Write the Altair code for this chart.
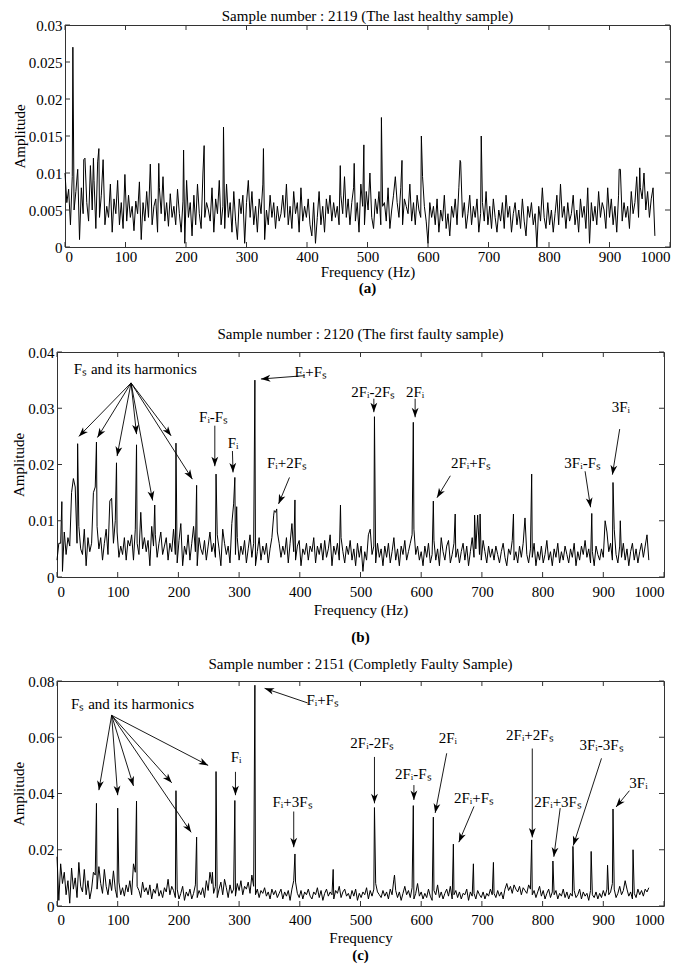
import math
import altair as alt
import pandas as pd

FONT = "Liberation Serif"
STEP = 3  # Hz between noise-floor samples (0 .. 975 Hz)

# ---------------- panel (a) : sample 2119 ----------------
noise_a = [
    100, 60, 78, 30, 95, 50, 75, 105, 10, 80, 45, 120, 60, 35, 110, 50, 90, 25, 115, 40,
    70, 118, 30, 55, 40, 85, 20, 65, 45, 90, 30, 60, 25, 98, 35, 70, 40, 55, 22, 62,
    45, 88, 10, 60, 35, 75, 40, 112, 30, 55, 65, 20, 80, 45, 95, 35, 60, 28, 72, 40,
    55, 30, 78, 45, 20, 62, 5, 90, 40, 60, 15, 70, 30, 85, 45, 25, 100, 40, 60, 50,
    35, 80, 20, 65, 45, 90, 30, 55, 25, 85, 40, 60, 20, 75, 35, 10, 65, 45, 70, 5,
    60, 90, 40, 75, 30, 55, 20, 65, 45, 85, 10, 50, 30, 70, 40, 60, 25, 55, 35, 45,
    70, 40, 85, 30, 55, 25, 75, 45, 60, 20, 80, 35, 55, 40, 65, 30, 15, 60, 5, 40,
    75, 30, 55, 20, 65, 45, 70, 35, 60, 40, 55, 30, 70, 45, 95, 40, 65, 30, 60, 80,
    35, 60, 20, 85, 55, 30, 75, 50, 100, 40, 25, 65, 45, 75, 30, 55, 60, 35, 80, 25,
    50, 70, 95, 60, 40, 80, 30, 65, 55, 45, 85, 35, 60, 30, 70, 50, 40, 95, 55, 35,
    5, 60, 40, 55, 30, 65, 20, 50, 35, 70, 25, 45, 15, 55, 40, 65, 30, 80, 115, 40,
    60, 25, 45, 70, 30, 55, 40, 65, 20, 45, 60, 35, 75, 30, 55, 25, 65, 40, 20, 50,
    35, 60, 25, 70, 40, 55, 20, 45, 60, 30, 50, 25, 65, 35, 15, 55, 40, 60, 30, 45,
    0, 55, 35, 80, 40, 25, 60, 30, 50, 20, 45, 70, 30, 85, 40, 55, 25, 60, 35, 45,
    70, 30, 50, 20, 65, 40, 55, 25, 80, 5, 60, 35, 55, 30, 75, 40, 60, 50, 25, 80,
    40, 65, 30, 55, 20, 70, 105, 35, 60, 40, 55, 25, 75, 45, 60, 95, 40, 80, 65, 100,
    50, 75, 40, 65, 80, 15,
]
peak_a_f = [13, 31, 47, 56, 155, 196, 230, 262, 328, 455, 478, 494, 523, 557, 589, 653, 688, 916, 950]
peak_a_v = [270, 118, 120, 133, 113, 131, 137, 162, 133, 110, 113, 138, 175, 117, 150, 117, 150, 105, 107]

# ---------------- panel (b) : sample 2120 ----------------
noise_b = [
    30, 60, 60, 10, 80, 40, 70, 55, 150, 175, 160, 60, 90, 50, 40, 85, 20, 70, 45, 60,
    150, 160, 90, 50, 70, 30, 60, 85, 40, 135, 140, 60, 100, 80, 35, 55, 40, 70, 30, 65,
    55, 75, 30, 85, 60, 40, 115, 50, 70, 45, 65, 20, 90, 55, 75, 35, 60, 80, 40, 55,
    70, 30, 60, 45, 85, 40, 25, 65, 95, 20, 55, 40, 75, 30, 60, 90, 45, 20, 70, 50,
    40, 65, 30, 55, 80, 45, 60, 35, 75, 50, 20, 85, 60, 40, 55, 25, 95, 130, 40, 70,
    30, 55, 40, 65, 25, 50, 75, 35, 60, 20, 45, 70, 30, 55, 40, 60, 25, 50, 70, 110,
    115, 80, 60, 35, 55, 40, 70, 25, 60, 95, 45, 30, 55, 65, 20, 50, 40, 60, 30, 55,
    45, 70, 25, 55, 40, 60, 30, 65, 35, 50, 75, 20, 55, 40, 60, 30, 70, 45, 25, 55,
    40, 65, 30, 50, 20, 60, 35, 55, 10, 45, 30, 75, 85, 40, 55, 25, 60, 35, 50, 20,
    55, 35, 60, 25, 45, 70, 30, 50, 20, 55, 40, 65, 30, 45, 60, 75, 85, 40, 55, 30,
    45, 20, 55, 35, 60, 25, 40, 65, 30, 50, 20, 70, 45, 30, 55, 65, 25, 40, 60, 35,
    50, 25, 45, 60, 30, 55, 20, 45, 70, 35, 50, 110, 40, 30, 65, 45, 25, 55, 35, 50,
    30, 55, 40, 25, 45, 60, 35, 20, 50, 40, 65, 30, 45, 25, 55, 35, 60, 105, 40, 25,
    50, 35, 60, 20, 45, 30, 55, 25, 40, 65, 30, 45, 20, 50, 35, 60, 25, 45, 30, 55,
    40, 25, 50, 35, 60, 20, 45, 30, 55, 40, 65, 35, 50, 25, 45, 20, 55, 40, 30, 50,
    35, 100, 80, 45, 60, 30, 85, 40, 25, 55, 35, 60, 30, 50, 20, 45, 60, 30, 50, 25,
    45, 60, 35, 55, 75, 30,
]
peak_b_f = [8, 34, 65, 98, 131, 161, 196, 230, 262, 293, 296, 326, 358, 362, 392, 467,
            523, 587, 620, 656, 688, 697, 752, 782, 881, 916, 928]
peak_b_v = [134, 237, 240, 203, 235, 128, 238, 163, 183, 177, 125, 350, 118, 121, 137, 128,
            285, 275, 135, 112, 110, 112, 112, 183, 113, 168, 100]

arr_b_x1 = [122, 122, 122, 122, 122, 122, 122, 260, 289, 408, 383, 522, 590, 648, 870, 927]
arr_b_y1 = [0.0345, 0.0345, 0.0345, 0.0345, 0.0345, 0.0345, 0.0345,
            0.0269, 0.0224, 0.0358, 0.0177, 0.0317, 0.0317, 0.0180, 0.0188, 0.0263]
arr_b_x2 = [36, 66.6, 99, 131, 157.5, 188, 223, 260, 290, 336, 365, 522, 590, 626, 879, 915]
arr_b_y2 = [0.0250, 0.0248, 0.0215, 0.0254, 0.0136, 0.0251, 0.0174,
            0.0197, 0.0186, 0.0352, 0.0130, 0.0293, 0.0284, 0.0141, 0.0124, 0.0182]

lab_b_t = ["Fₛ and its harmonics", "Fᵢ-Fₛ", "Fᵢ", "Fᵢ+Fₛ", "Fᵢ+2Fₛ",
           "2Fᵢ-2Fₛ", "2Fᵢ", "2Fᵢ+Fₛ", "3Fᵢ-Fₛ", "3Fᵢ"]
lab_b_x = [129, 258, 290, 418, 379, 521, 590, 682, 866, 929]
lab_b_y = [0.0370, 0.0284, 0.0239, 0.0364, 0.0203, 0.0329, 0.0329, 0.0203, 0.0203, 0.0302]

# ---------------- panel (c) : sample 2151 ----------------
noise_c = [
    175, 20, 150, 80, 120, 40, 90, 10, 135, 60, 100, 30, 155, 70, 50, 130, 40, 90, 25, 60,
    120, 110, 60, 140, 80, 45, 130, 70, 40, 95, 55, 125, 60, 30, 85, 40, 65, 35, 75, 50,
    90, 40, 150, 120, 70, 55, 30, 85, 50, 65, 40, 75, 25, 60, 45, 80, 35, 55, 30, 65,
    50, 95, 40, 70, 55, 30, 60, 25, 45, 70, 20, 50, 35, 60, 25, 45, 75, 30, 55, 40,
    65, 30, 90, 55, 120, 80, 45, 70, 30, 60, 85, 40, 95, 65, 30, 75, 45, 60, 35, 80,
    55, 90, 40, 70, 60, 85, 45, 110, 70, 40, 60, 30, 55, 45, 65, 35, 50, 25, 60, 40,
    55, 30, 45, 60, 25, 50, 35, 55, 20, 60, 90, 85, 45, 30, 55, 25, 50, 40, 60, 35,
    25, 50, 40, 65, 30, 55, 20, 45, 60, 35, 50, 40, 25, 55, 45, 70, 30, 50, 60, 35,
    45, 25, 55, 35, 60, 20, 45, 30, 50, 40, 65, 25, 55, 35, 60, 80, 50, 40, 30, 55,
    35, 50, 25, 60, 40, 95, 55, 30, 50, 20, 45, 70, 40, 55, 30, 65, 25, 45, 80, 35,
    50, 25, 45, 30, 60, 35, 20, 55, 40, 75, 30, 50, 25, 45, 60, 35, 70, 25, 40, 55,
    30, 50, 25, 45, 40, 60, 20, 50, 35, 45, 25, 55, 40, 30, 50, 25, 45, 35, 60, 40,
    45, 30, 55, 35, 50, 25, 60, 80, 55, 70, 45, 75, 60, 50, 70, 40, 65, 55, 45, 75,
    60, 40, 55, 30, 50, 70, 35, 55, 25, 45, 60, 30, 50, 40, 55, 25, 45, 35, 60, 30,
    50, 25, 45, 35, 55, 30, 40, 60, 25, 50, 35, 45, 20, 55, 40, 30, 50, 25, 45, 30,
    55, 35, 60, 40, 50, 80, 60, 30, 45, 70, 40, 55, 90, 60, 35, 50, 25, 45, 30, 60,
    40, 55, 35, 60, 50, 65,
]
peak_c_f = [65, 100, 131, 196, 230, 256, 262, 293, 326, 392, 455, 523, 556, 587, 620,
            653, 686, 719, 782, 817, 850, 880, 907, 916, 949]
peak_c_v = [365, 348, 373, 410, 245, 120, 478, 375, 785, 185, 130, 350, 110, 357, 316,
            220, 150, 155, 235, 160, 212, 194, 145, 345, 200]

arr_c_x1 = [90, 90, 90, 90, 90, 90, 294, 413, 390, 523, 588, 642, 687, 783, 829, 897, 943]
arr_c_y1 = [0.0678, 0.0678, 0.0678, 0.0678, 0.0678, 0.0678, 0.0477, 0.0722, 0.0336,
            0.0530, 0.0430, 0.0543, 0.0354, 0.0560, 0.0348, 0.0525, 0.0410]
arr_c_x2 = [69, 100, 126, 189, 249, 221, 294, 342, 390, 523, 588, 623, 662, 783, 818.5, 850.5, 921]
arr_c_y2 = [0.0412, 0.0394, 0.0427, 0.0438, 0.0500, 0.0262, 0.0394, 0.0774, 0.0209,
            0.0365, 0.0377, 0.0331, 0.0227, 0.0244, 0.0175, 0.0215, 0.0352]

lab_c_t = ["Fₛ and its harmonics", "Fᵢ", "Fᵢ+Fₛ", "Fᵢ+3Fₛ", "2Fᵢ-2Fₛ", "2Fᵢ-Fₛ",
           "2Fᵢ", "2Fᵢ+Fₛ", "2Fᵢ+2Fₛ", "2Fᵢ+3Fₛ", "3Fᵢ-3Fₛ", "3Fᵢ"]
lab_c_x = [124.5, 295, 437.7, 388, 519.6, 587, 644, 687, 779, 825.6, 897, 958]
lab_c_y = [0.0720, 0.0530, 0.0734, 0.0371, 0.0578, 0.0470, 0.0596, 0.0385, 0.0608,
           0.0371, 0.0572, 0.0436]

# ---------------- axes ----------------
x_ticks = [0, 100, 200, 300, 400, 500, 600, 700, 800, 900, 1000]
y_ticks_a = [0, 0.005, 0.01, 0.015, 0.02, 0.025, 0.03]
y_ticks_b = [0, 0.01, 0.02, 0.03, 0.04]
y_ticks_c = [0, 0.02, 0.04, 0.06, 0.08]

ARROW = "M0,0L-0.36,-1L0,-0.72L0.36,-1Z"
BOX = "#333333"


def spectrum_df(noise, pf, pv):
    f = [i * STEP for i in range(len(noise))] + list(pf)
    v = [n * 1e-4 for n in noise] + [p * 1e-4 for p in pv]
    return pd.DataFrame({"f": f, "v": v}).sort_values("f").reset_index(drop=True)


def panel(noise, pf, pv, ymax, yt, W, H, title, t_dy, xtitle, letter, let_dy,
          lab_pad, tit_pad, B, arrows=None, labels=None):
    xs = alt.Scale(domain=[0, 1000], nice=False, zero=False)
    ys = alt.Scale(domain=[0, ymax], nice=False, zero=False)
    ax_x = alt.Axis(values=x_ticks, format="d", title=xtitle,
                    labelPadding=lab_pad, titlePadding=tit_pad)
    ax_y = alt.Axis(values=yt, format="~g", title="Amplitude",
                    labelPadding=3, titlePadding=1)

    def X(field):
        return alt.X(field, scale=xs, axis=ax_x)

    def Y(field):
        return alt.Y(field, scale=ys, axis=ax_y)

    spec = spectrum_df(noise, pf, pv)
    layers = [alt.Chart(spec).mark_line(color="black", strokeWidth=1).encode(
        x=X("f:Q"), y=Y("v:Q"))]

    xt = pd.DataFrame({"t": x_ticks})
    ytd = pd.DataFrame({"t": yt})
    tick_style = dict(color=BOX, strokeWidth=1)
    layers.append(alt.Chart(xt).mark_rule(**tick_style).encode(
        x=X("t:Q"), y=alt.value(0), y2=alt.value(5)))
    layers.append(alt.Chart(xt).mark_rule(**tick_style).encode(
        x=X("t:Q"), y=alt.value(H - 5), y2=alt.value(H)))
    layers.append(alt.Chart(ytd).mark_rule(**tick_style).encode(
        y=Y("t:Q"), x=alt.value(0), x2=alt.value(5)))
    layers.append(alt.Chart(ytd).mark_rule(**tick_style).encode(
        y=Y("t:Q"), x=alt.value(W - 5), x2=alt.value(W)))

    if arrows is not None:
        x1, y1, x2, y2 = arrows
        angs = []
        for a, b, c, d in zip(x1, y1, x2, y2):
            dxp = (c - a) * W / 1000.0
            dyp = -(d - b) * H / ymax
            angs.append(math.degrees(math.atan2(-dxp, dyp)) % 360)
        adf = pd.DataFrame({"x1": x1, "y1": y1, "x2": x2, "y2": y2, "ang": angs})
        layers.append(alt.Chart(adf).mark_rule(color="black", strokeWidth=0.9).encode(
            x=X("x1:Q"), y=Y("y1:Q"), x2="x2:Q", y2="y2:Q"))
        layers.append(alt.Chart(adf).mark_point(
            shape=ARROW, filled=True, color="black", size=360, opacity=1, strokeWidth=0
        ).encode(x=X("x2:Q"), y=Y("y2:Q"), angle=alt.Angle("ang:Q", scale=None)))

    if labels is not None:
        t, lx, ly = labels
        ldf = pd.DataFrame({"t": t, "x": lx, "y": ly})
        layers.append(alt.Chart(ldf).mark_text(
            font=FONT, fontSize=15, color="black", align="center", baseline="middle"
        ).encode(x=X("x:Q"), y=Y("y:Q"), text="t:N"))

    # panel title above the frame
    layers.append(alt.Chart(pd.DataFrame({"t": [title]})).mark_text(
        font=FONT, fontSize=15, color="black", align="center", baseline="middle"
    ).encode(x=alt.value(W / 2), y=alt.value(-t_dy), text="t:N"))

    # panel letter below the axis title
    layers.append(alt.Chart(pd.DataFrame({"t": [letter]})).mark_text(
        font=FONT, fontSize=15, fontWeight="bold", color="black", align="center",
        baseline="middle").encode(x=alt.value(W / 2), y=alt.value(H + let_dy), text="t:N"))

    # near-invisible rule fixing the lower extent of the panel block
    layers.append(alt.Chart(pd.DataFrame({"k": [0]})).mark_rule(
        color="white", opacity=0.01, strokeWidth=0.5).encode(
        x=alt.value(-2), y=alt.value(0), y2=alt.value(H + B)))

    return alt.layer(*layers).properties(width=W, height=H)


def spacer():
    return alt.Chart(pd.DataFrame({"k": [0]})).mark_point(opacity=0, size=0).encode(
        x=alt.value(0), y=alt.value(0)
    ).properties(width=1, height=1, view=alt.ViewBackground(stroke="transparent"))


pa = panel(noise_a, peak_a_f, peak_a_v, 0.03, y_ticks_a, 605, 222,
           "Sample number : 2119 (The last healthy sample)", 9, "Frequency (Hz)", "(a)", 41,
           2, 0, 78)
pb = panel(noise_b, peak_b_f, peak_b_v, 0.04, y_ticks_b, 607, 225,
           "Sample number : 2120 (The first faulty sample)", 18, "Frequency (Hz)", "(b)", 60,
           7, 3, 78,
           arrows=(arr_b_x1, arr_b_y1, arr_b_x2, arr_b_y2),
           labels=(lab_b_t, lab_b_x, lab_b_y))
pc = panel(noise_c, peak_c_f, peak_c_v, 0.08, y_ticks_c, 607, 225,
           "Sample number : 2151 (Completly Faulty Sample)", 17, "Frequency", "(c)", 49,
           6, 3, 56,
           arrows=(arr_c_x1, arr_c_y1, arr_c_x2, arr_c_y2),
           labels=(lab_c_t, lab_c_x, lab_c_y))

rows = [alt.hconcat(spacer(), p, spacing=0, bounds="full") for p in (pa, pb, pc)]

chart = alt.vconcat(*rows, spacing=0, bounds="full").properties(
    padding={"left": 0, "top": 0, "right": 0, "bottom": 0}
).configure_view(stroke=BOX, strokeWidth=1).configure_axis(
    labelFont=FONT, titleFont=FONT, labelFontSize=15, titleFontSize=15,
    titleFontWeight="normal", labelColor="black", titleColor="black",
    domain=False, ticks=False, grid=False, labelOverlap=False,
)

chart.save("out.html", embed_options={"renderer": "svg", "actions": False})
